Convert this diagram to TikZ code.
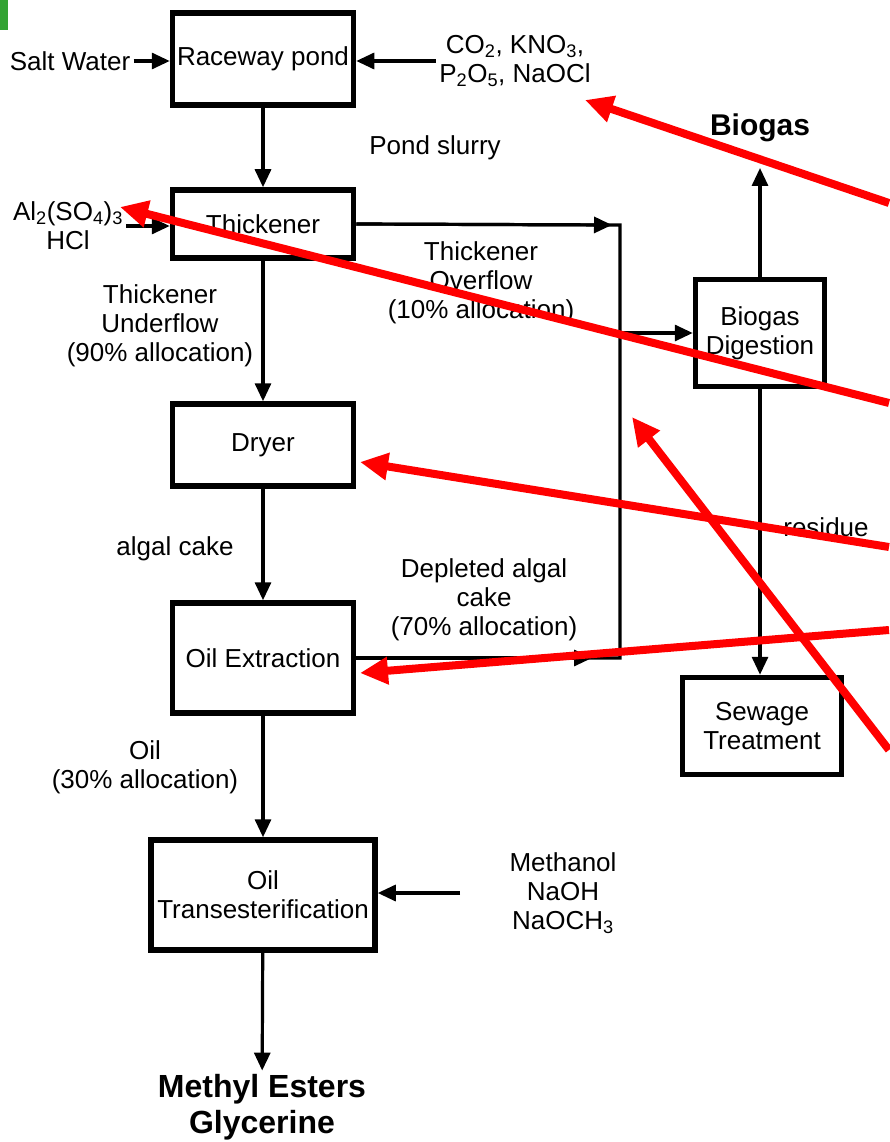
\documentclass[tikz,border=0pt]{standalone}
\usepackage{fontspec}
\setmainfont{Liberation Sans}
\usetikzlibrary{arrows.meta}

\begin{document}
\begin{tikzpicture}[x=1pt,y=-1pt,
	every node/.style = {font=\fontsize{26}{29}\selectfont,align=center},
	unit/.style={draw,line width=5.5pt,inner sep=2pt,minimum width=181pt},
	flow/.style={line width=3.2pt,-{Triangle[length=18pt,width=16pt]}},
	pipe/.style={line width=3.2pt},
	hint/.style={red,line width=8pt,-{Triangle[length=28pt,width=26pt]}},
	big/.style={font=\fontsize{32}{36}\selectfont\bfseries}
	]
  \fill[white] (0,0) rectangle (889,1142);
  \useasboundingbox (0,0) rectangle (889,1142);
  \fill[green!55!black!80] (0,0) rectangle (8,30);
  % main column
  \node[unit,minimum height=92pt] (race) at (263,59) {Raceway pond};
  \node[unit,minimum height=68pt] (thick) at (263,224) {Thickener};
  \node[unit,minimum height=82pt] (dryer) at (263,445) {Dryer};
  \node[unit,minimum height=110pt] (oilx) at (263,658) {Oil Extraction};
  \node[unit,minimum width=224pt,minimum height=110pt] (trans) at (263,895) {Oil\\Transesterification};
  \node[big] (prod) at (262,1107) {Methyl Esters\\Glycerine};
  % side units
  \node[unit,minimum width=129pt,minimum height=107pt] (bio) at (760,333) {Biogas\\Digestion};
  \node[unit,minimum width=159pt,minimum height=97pt] (sew) at (762,726) {Sewage\\Treatment};
  \node[big,font=\fontsize{30}{36}\selectfont\bfseries] (gas) at (760,128) {Biogas};
  % labels
  \node (salt) at (70,61) {Salt Water};
  \node (chem) at (515,61) {CO\textsubscript{2}, KNO\textsubscript{3},\\P\textsubscript{2}O\textsubscript{5}, NaOCl};
  \node (slurry) at (435,148) {Pond slurry};
  \node (alum) at (68,226) {Al\textsubscript{2}(SO\textsubscript{4})\textsubscript{3}\\HCl};
  \node (under) at (160,326) {Thickener\\Underflow\\(90\% allocation)};
  \node (over) at (481,283) {Thickener\\Overflow\\(10\% allocation)};
  \node (cake) at (175,549) {algal cake};
  \node (depl) at (484,600) {Depleted algal\\cake\\(70\% allocation)};
  \node (oilcut) at (145,767) {Oil\\(30\% allocation)};
  \node (meth) at (563,893) {Methanol\\NaOH\\NaOCH\textsubscript{3}};
  \node (resid) at (826,527) {residue};
  \coordinate (ovr) at (620,225);
  \coordinate (dep) at (620,658);
  \coordinate (tap) at (620,333);
  \coordinate (methin) at (460,893);
  \coordinate (gasin) at (760,168);
  % connectors
  \draw[flow] (salt.east) -- (salt.east -| race.west);
  \draw[flow] (chem.west) -- (chem.west -| race.east);
  \draw[flow] (race) -- (thick);
  \draw[flow] (alum.east) -- (alum.east -| thick.west);
  \draw[flow] (thick) -- (dryer);
  \draw[flow] (dryer) -- (oilx);
  \draw[flow] (oilx) -- (trans);
  \draw[flow] (methin) -- (methin -| trans.east);
  \draw[flow] (trans) -- (prod);
  \draw[pipe] (thick.east) -- (ovr) -- (dep) -- (oilx.east);
  \draw[flow] (thick.east) -- ([xshift=-8pt]ovr);
  \draw[flow] (oilx.east) -- ([xshift=-28pt]dep);
  \draw[flow] (tap) -- (tap -| bio.west);
  \draw[flow] (bio.north) -- (gasin);
  \draw[flow] (bio.south) -- (bio.south |- sew.north);
  % red pointers
  \coordinate (r1) at (889,203); \coordinate (t1) at (585,100);
  \coordinate (r2) at (889,403); \coordinate (t2) at (120,207);
  \coordinate (r3) at (889,547); \coordinate (t3) at (360,462);
  \coordinate (r4) at (889,630); \coordinate (t4) at (360,673);
  \coordinate (r5) at (889,750); \coordinate (t5) at (632,417);
  \foreach \i in {1,...,5}
    \draw[hint] (r\i) -- (t\i);
\end{tikzpicture}
\end{document}
